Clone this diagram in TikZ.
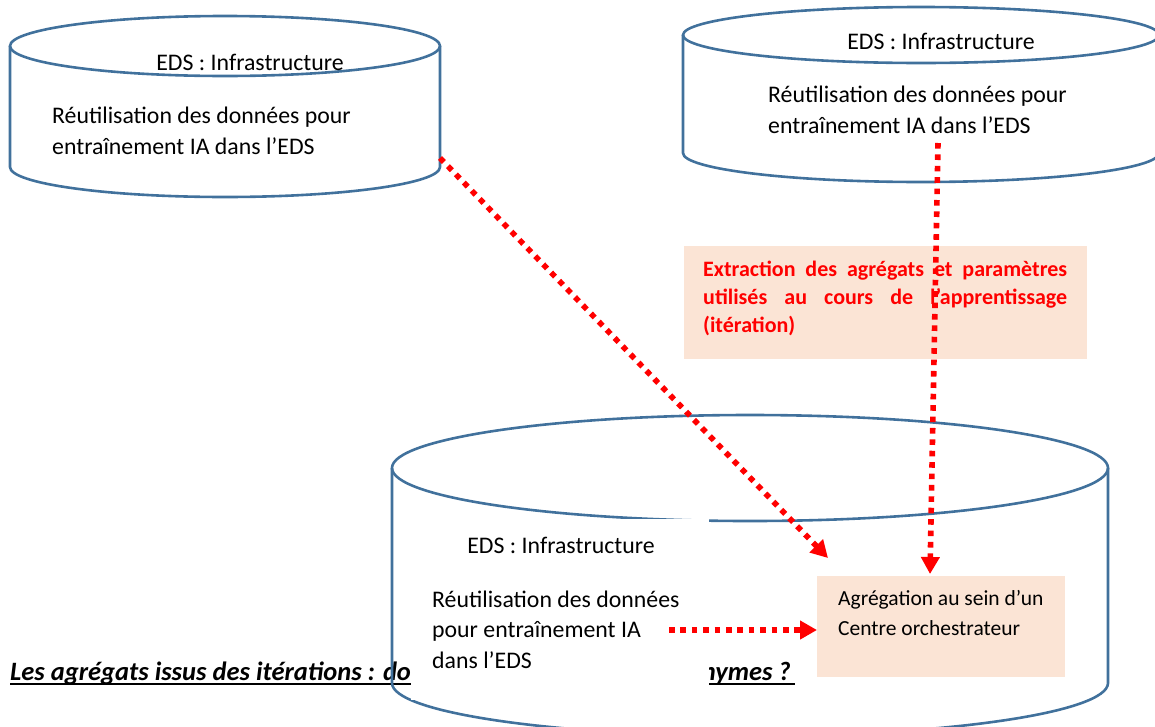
\documentclass[tikz,border=0pt]{standalone}
\usepackage{fontspec}
\setmainfont{Carlito}
\usetikzlibrary{arrows.meta,calc}
\definecolor{cylblue}{HTML}{41719C}
\definecolor{peach}{HTML}{FBE4D5}
\definecolor{flowred}{HTML}{FF0000}

\begin{document}
\begin{tikzpicture}[x=1pt,y=-1pt,
  cyl/.style={draw=cylblue, line width=2.6pt},
  % multi-line nodes are placed by the baseline of their last line
  body/.style={font=\fontsize{23.8}{31}\selectfont, inner sep=0pt, align=left, anchor=base west},
  title/.style={font=\fontsize{23.8}{31}\selectfont, inner sep=0pt, anchor=base},
  redtxt/.style={font=\fontsize{22}{28}\selectfont\bfseries, text=flowred, inner sep=0pt, align=left, anchor=base west},
  aggtxt/.style={font=\fontsize{21.5}{30}\selectfont, inner sep=0pt, align=left, anchor=base west},
  headtxt/.style={font=\fontsize{26.5}{30}\selectfont\bfseries\itshape, inner sep=0pt},
  flow/.style={draw=flowred, line width=5.6pt, line cap=butt, dash pattern=on 5.6pt off 5.8pt,
    -{Triangle[length=17pt,width=18pt]}},
]
\useasboundingbox (0,0) rectangle (1155,726);
\clip (0,0) rectangle (1155,726);

% question line under the lower store
\node[headtxt, anchor=base west] (qleft) at (10,680) {Les agrégats issus des itérations : do};
\node[headtxt, anchor=base east] (qright) at (791,680) {nymes ?};
\draw[line width=2.2pt] ($(qleft.base west)+(0,4)$) -- ($(qleft.base east)+(0,4)$);
\draw[line width=2.2pt] ($(qright.base west)+(0,4)$) -- ($(qright.base east)+(4,4)$);

% upper left store
\draw[cyl] (225,46) ellipse [x radius=215, y radius=30];
\draw[cyl] (10,46) -- (10,167) arc[start angle=180, end angle=0, x radius=215, y radius=30] -- (440,46);
\node[title] (tlhead) at (250,70) {EDS : Infrastructure};
\node[body] (tlbody) at (52,154) {Réutilisation des données pour\\entraînement IA dans l’EDS};

% upper right store
\draw[cyl] (921,35) ellipse [x radius=238, y radius=28];
\draw[cyl] (683,35) -- (683,153) arc[start angle=180, end angle=0, x radius=238, y radius=29] -- (1159,35);
\node[title] (trhead) at (941,49) {EDS : Infrastructure};
\node[body] (trbody) at (768,133) {Réutilisation des données pour\\entraînement IA dans l’EDS};

% lower store
\draw[cyl] (750,468) ellipse [x radius=358, y radius=53];
\draw[cyl] (392,468) -- (392,683) arc[start angle=180, end angle=0, x radius=358, y radius=53] -- (1108,468);
\fill[white] (411,519) rectangle (709,700);
\node[title] (bhead) at (561,553) {EDS : Infrastructure};
\node[body, font=\fontsize{23.8}{30.5}\selectfont] (bbody) at (432,668)
  {Réutilisation des données\\pour entraînement IA\\dans l’EDS};

% extraction note
\node[fill=peach, inner sep=0pt, minimum width=403pt, minimum height=113pt, anchor=north west] (extract) at (684,246) {};
\node[redtxt] (extracttxt) at (703,332)
  {\makebox[364pt][s]{Extraction des agrégats et paramètres}\\
   \makebox[364pt][s]{utilisés au cours de l’apprentissage}\\
   (itération)};

% orchestrating centre
\node[fill=peach, inner sep=0pt, minimum width=248pt, minimum height=101pt, anchor=north west] (agg) at (817,576) {};
\node[aggtxt] (aggtxt) at (838,635) {Agrégation au sein d’un\\Centre orchestrateur};

% flows of aggregates
\coordinate (fromtl) at (440,158);
\coordinate (totl) at (828,558);
\coordinate (fromtr) at (938,143);
\coordinate (totr) at (930,574);
\coordinate (fromb) at (669,630);
\coordinate (tob) at (817,630);
\draw[flow] (fromtl) -- (totl);
\draw[flow] (fromtr) -- (totr);
\draw[flow] (fromb) -- (tob);
\end{tikzpicture}
\end{document}
